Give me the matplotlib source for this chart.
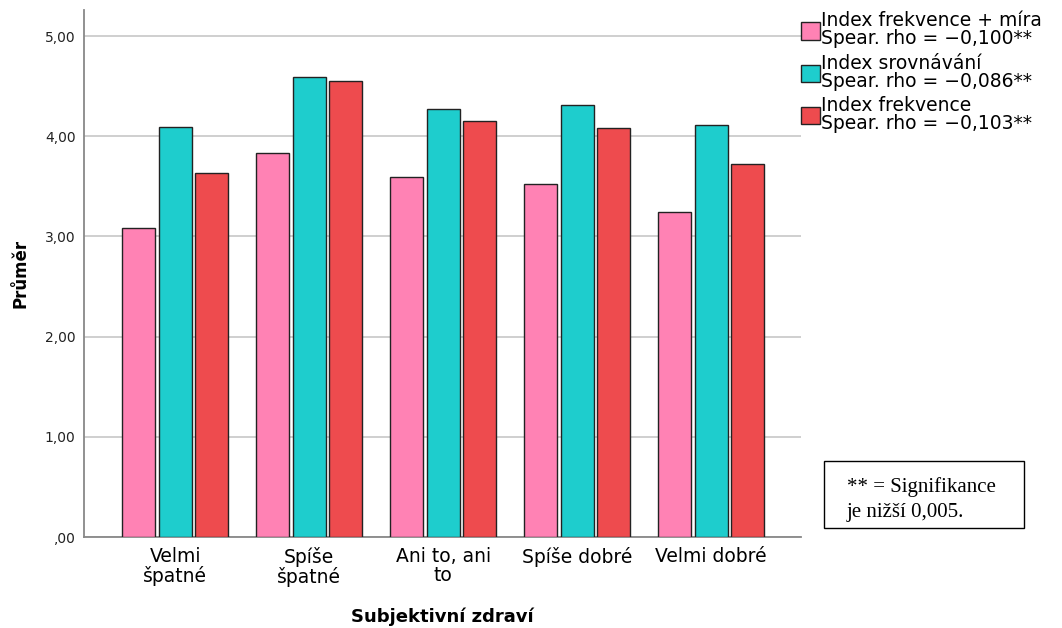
import numpy as np
import matplotlib.pyplot as plt
from matplotlib.patches import Patch, Rectangle

# Categories (Subjektivní zdraví)
categories = ["Velmi\nšpatné", "Spíše\nšpatné", "Ani to, ani\nto", "Spíše dobré", "Velmi dobré"]

# Means per index
freq_mira = [3.08, 3.83, 3.59, 3.52, 3.24]
srovnavani = [4.09, 4.59, 4.27, 4.31, 4.11]
frekvence = [3.63, 4.55, 4.15, 4.08, 3.72]

series_labels = [
    "Index frekvence + míra\nSpear. rho = \u22120,100**",
    "Index srovnávání\nSpear. rho = \u22120,086**",
    "Index frekvence\nSpear. rho = \u22120,103**",
]
colors = ["#FF82B4", "#1ECDCD", "#EE4B4E"]

yticks = [0, 1, 2, 3, 4, 5]
ytick_labels = [",00", "1,00", "2,00", "3,00", "4,00", "5,00"]

plt.rcParams['font.family'] = ['DejaVu Sans']

fig = plt.figure(figsize=(10.62, 6.28), dpi=100)
ax = fig.add_axes([0.0791, 0.1449, 0.675, 0.839])

x = np.arange(len(categories))
width = 0.246
step = 0.272
for i, (vals, c) in enumerate(zip([freq_mira, srovnavani, frekvence], colors)):
    ax.bar(x + (i - 1) * step, vals, width, color=c, edgecolor="#222222",
           linewidth=1.0, zorder=3)

ax.set_xlim(-0.68, 4.67)
ax.set_ylim(0, 5.26)
ax.set_yticks(yticks)
ax.set_yticklabels(ytick_labels, fontsize=10, color="#222222")
ax.set_xticks(x)
ax.set_xticklabels(categories, fontsize=13.5, linespacing=1.0)
ax.tick_params(axis='x', length=0, pad=7)
ax.tick_params(axis='y', length=0, pad=6)

ax.yaxis.grid(True, color="#cccccc", linewidth=1.3, zorder=0)
for s in ["top", "right"]:
    ax.spines[s].set_visible(False)
for s in ["left", "bottom"]:
    ax.spines[s].set_color("#888888")
    ax.spines[s].set_linewidth(1.3)

ax.set_xlabel("Subjektivní zdraví", fontsize=13, fontweight="bold", va="baseline")
ax.xaxis.set_label_coords(0.5, -0.161)
ax.set_ylabel("Průměr", fontsize=12, fontweight="bold", va="center")
ax.yaxis.set_label_coords(-0.089, 0.5)

handles = [Patch(facecolor=c, edgecolor="#222222", linewidth=1.0) for c in colors]
leg = fig.legend(handles, series_labels, loc="upper left",
                 bbox_to_anchor=(0.754, 0.982), frameon=False, fontsize=13.5,
                 handlelength=1.05, handleheight=1.05, handletextpad=0.05,
                 labelspacing=0.3, borderaxespad=0, borderpad=0)
for t in leg.get_texts():
    t.set_linespacing(0.92)

# significance note box
fig.add_artist(Rectangle((0.776, 0.160), 0.188, 0.106, transform=fig.transFigure,
                         facecolor="white", edgecolor="black", linewidth=1.0))
fig.text(0.7975, 0.2166, "** = Signifikance", family="Liberation Serif",
         fontsize=15, va="baseline", ha="left")
fig.text(0.7975, 0.176, "je nižší 0,005.", family="Liberation Serif",
         fontsize=15, va="baseline", ha="left")

fig.savefig("out.png", dpi=100)
